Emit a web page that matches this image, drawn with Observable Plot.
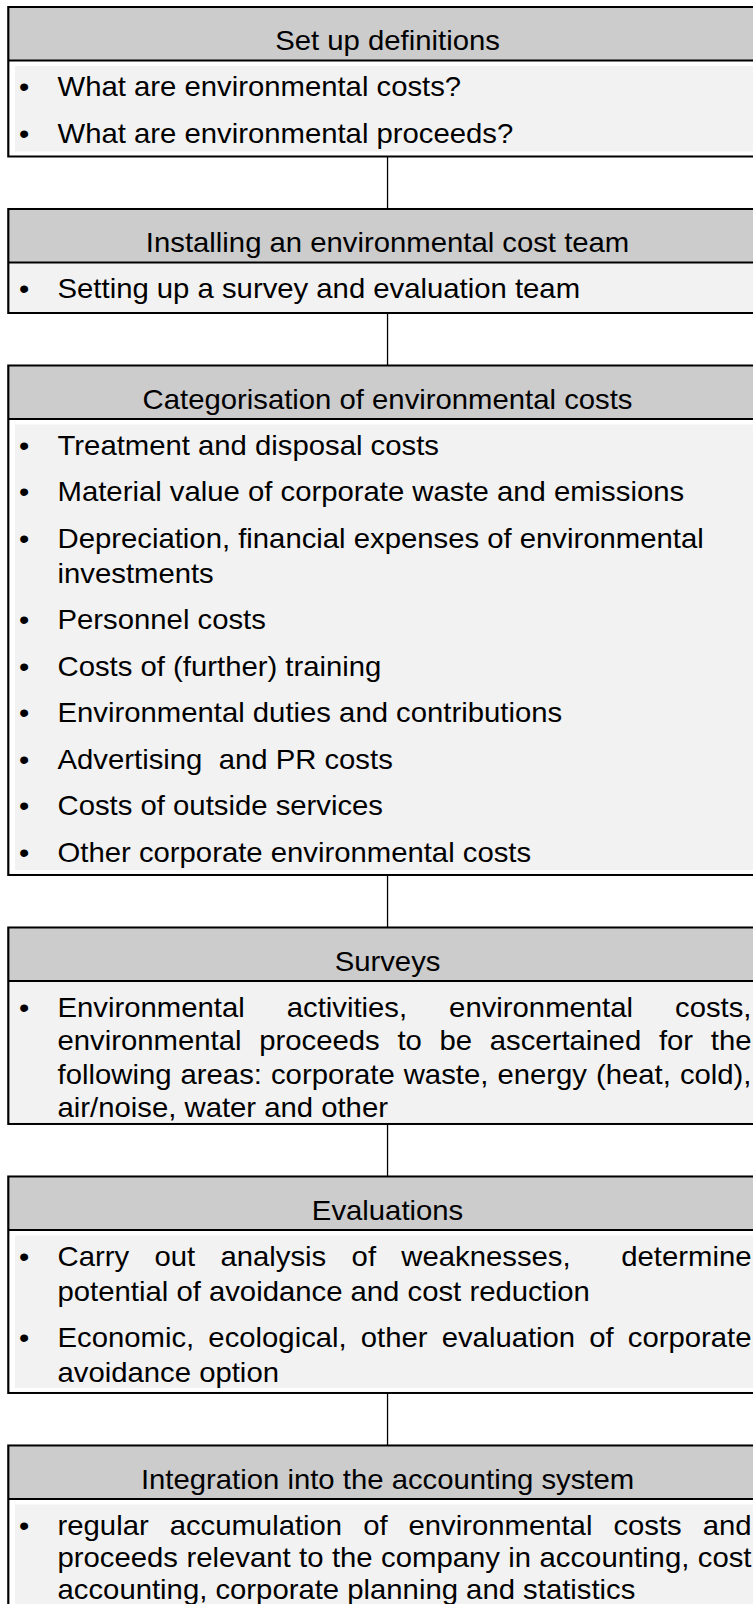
<!DOCTYPE html>
<html>
<head>
<meta charset="utf-8">
<script src="https://cdn.jsdelivr.net/npm/d3@7"></script>
<script src="https://cdn.jsdelivr.net/npm/@observablehq/plot@0.6"></script>
<style>
html, body { margin: 0; padding: 0; background: #fff; overflow: hidden; width: 753px; height: 1604px; }
#chart { width: 753px; height: 1604px; overflow: hidden; position: relative; }
#chart svg { transform-origin: 0 0; display: block; }
</style>
</head>
<body>
<div id="chart"></div>
<script>
// ---------- content ----------
const stageTitles = [
  "Set up definitions",
  "Installing an environmental cost team",
  "Categorisation of environmental costs",
  "Surveys",
  "Evaluations",
  "Integration into the accounting system"
];
// each bullet = the lines it wraps to in the original
const definitionBullets = [
  ["What are environmental costs?"],
  ["What are environmental proceeds?"]
];
const teamBullets = [
  ["Setting up a survey and evaluation team"]
];
const categoryBullets = [
  ["Treatment and disposal costs"],
  ["Material value of corporate waste and emissions"],
  ["Depreciation, financial expenses of environmental", "investments"],
  ["Personnel costs"],
  ["Costs of (further) training"],
  ["Environmental duties and contributions"],
  ["Advertising  and PR costs"],
  ["Costs of outside services"],
  ["Other corporate environmental costs"]
];
const surveyBullets = [
  ["Environmental activities, environmental costs,",
   "environmental proceeds to be ascertained for the",
   "following areas: corporate waste, energy (heat, cold),",
   "air/noise, water and other"]
];
const evaluationBullets = [
  ["Carry out analysis of weaknesses,  determine",
   "potential of avoidance and cost reduction"],
  ["Economic, ecological, other evaluation of corporate",
   "avoidance option"]
];
const integrationBullets = [
  ["regular accumulation of environmental costs and",
   "proceeds relevant to the company in accounting, cost",
   "accounting, corporate planning and statistics"]
];
const stageBullets = [definitionBullets, teamBullets, categoryBullets, surveyBullets, evaluationBullets, integrationBullets];

// ---------- layout / style (not data) ----------
const justifyStage = [false, false, false, true, true, true];
const shadeInset   = [true, false, true, false, true, true];
const lineStep  = [35, 35, 35, 33.5, 35, 32];
const paraStep  = 46.5;
const bottomPad = [14, 15, 13.5, 7, 11, 14];
const headerH = 53, firstBase = 36, gapH = 52.5, startTop = 7, headerBase = 10;

const S = 1.085;            // horizontal stretch of the original picture
const FS = 27;              // font size
const FONT = "'Liberation Sans', Arial, Helvetica, sans-serif";
const W = 753 / S, H = 1604;
const X = v => v / S;
const boxL = X(8.3), boxR = X(766), textX = X(57), bulletX = X(23.5), justifyR = X(751), centerX = X(387), shadeL = X(15);

const ctx = document.createElement("canvas").getContext("2d");
ctx.font = `${FS}px ${FONT}`;
const mw = s => ctx.measureText(s).width;

const boxes = [], headers = [], lines = [], words = [], bullets = [], links = [];
let boxTop = startTop, prevBottom = null;
stageTitles.forEach((title, i) => {
  const hl = boxTop + headerH;
  let y = hl + firstBase;
  stageBullets[i].forEach((para, p) => {
    if (p > 0) y += paraStep;
    bullets.push({x: bulletX, y});
    para.forEach((line, k) => {
      if (k > 0) y += lineStep[i];
      const justify = justifyStage[i] && k < para.length - 1;
      if (!justify) {
        lines.push({x: textX, y, text: line});
      } else {
        const tokens = line.split(" ");
        const nSpaces = tokens.length - 1;
        const extra = (justifyR - textX - mw(line)) / nSpaces;
        const sw = mw(" ");
        let x = textX;
        tokens.forEach((t, j) => {
          if (t.length) { words.push({x, y, text: t}); x += mw(t); }
          if (j < nSpaces) x += sw + extra;
        });
      }
    });
  });
  const bottom = y + bottomPad[i];
  boxes.push({top: boxTop, hl, bottom, inset: shadeInset[i]});
  headers.push({x: centerX, y: hl - headerBase, text: title});
  if (prevBottom !== null) links.push({x: centerX, y1: prevBottom, y2: boxTop});
  prevBottom = bottom;
  boxTop = bottom + gapH;
});

const chart = Plot.plot({
  width: W,
  height: H,
  margin: 0,
  x: {domain: [0, W], range: [0, W], axis: null},
  y: {domain: [0, H], range: [0, H], axis: null},
  style: {fontFamily: FONT, fontSize: `${FS}px`, background: "white", color: "black"},
  marks: [
    Plot.rect(boxes, {x1: boxL, x2: boxR, y1: "top", y2: "hl", fill: "#cccccc"}),
    Plot.rect(boxes, {
      x1: d => d.inset ? shadeL : boxL, x2: boxR,
      y1: d => d.inset ? d.hl + 6 : d.hl,
      y2: d => d.inset ? d.bottom - 5 : d.bottom,
      fill: "#f2f2f2"
    }),
    Plot.ruleY(boxes, {y: "hl", x1: boxL, x2: boxR, stroke: "black", strokeWidth: 2}),
    Plot.rect(boxes, {x1: boxL, x2: boxR, y1: "top", y2: "bottom", fill: "none", stroke: "black", strokeWidth: 2}),
    Plot.ruleX(links, {x: "x", y1: "y1", y2: "y2", stroke: "black", strokeWidth: 1.2}),
    Plot.text(headers, {x: "x", y: "y", text: "text", textAnchor: "middle", lineAnchor: "bottom", fontSize: FS, fill: "black"}),
    Plot.text(bullets, {x: "x", y: "y", text: () => "\u2022", textAnchor: "middle", lineAnchor: "bottom", fontSize: FS, fill: "black"}),
    Plot.text(lines, {x: "x", y: "y", text: "text", textAnchor: "start", lineAnchor: "bottom", fontSize: FS, fill: "black"}),
    Plot.text(words, {x: "x", y: "y", text: "text", textAnchor: "start", lineAnchor: "bottom", fontSize: FS, fill: "black"})
  ]
});
chart.style.transform = `scaleX(${S})`;
chart.style.maxWidth = "none";
document.getElementById("chart").appendChild(chart);
</script>
</body>
</html>
